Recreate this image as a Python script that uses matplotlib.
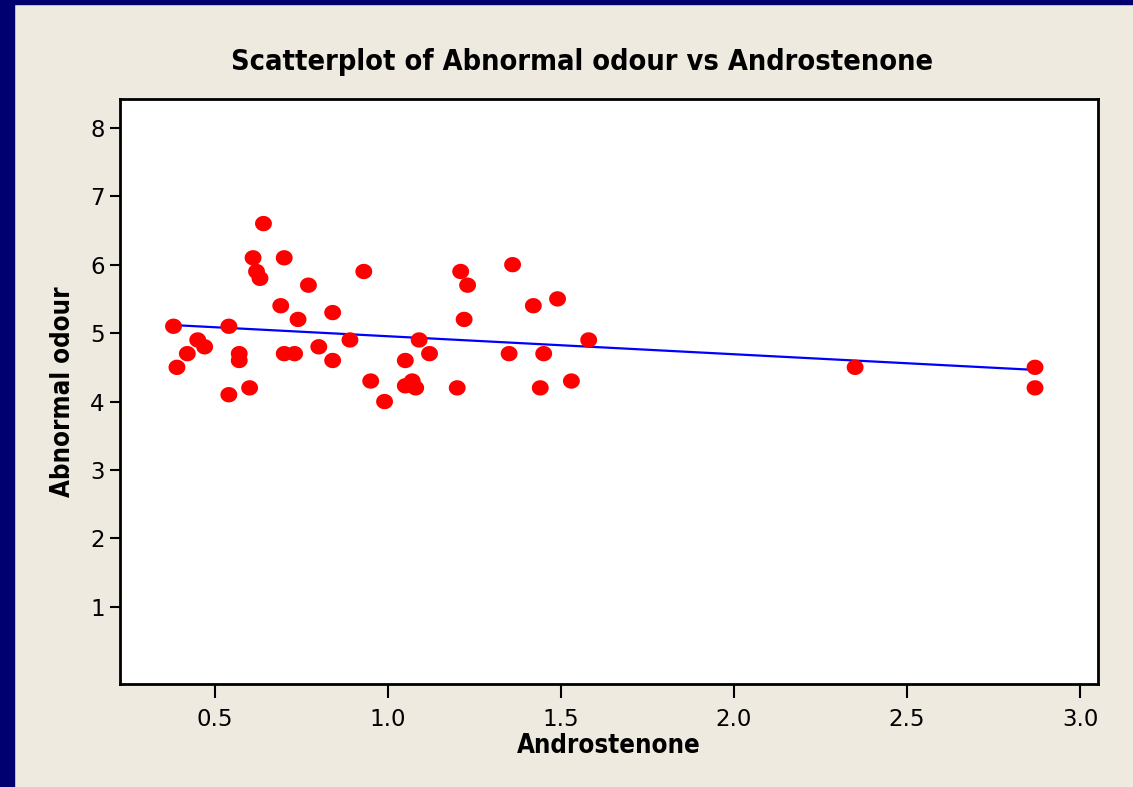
import numpy as np
import matplotlib
matplotlib.use('Agg')
import matplotlib.pyplot as plt
from matplotlib.patches import Rectangle

# Androstenone vs abnormal odour
androstenone = [0.38, 0.39, 0.42, 0.45, 0.47, 0.54, 0.54, 0.57, 0.57, 0.60,
                0.61, 0.62, 0.63, 0.64, 0.70, 0.69, 0.70, 0.73, 0.74, 0.77,
                0.80, 0.84, 0.84, 0.89, 0.93, 0.95, 0.99, 1.05, 1.05, 1.07,
                1.08, 1.09, 1.12, 1.20, 1.21, 1.23, 1.22, 1.36, 1.42, 1.49,
                1.35, 1.45, 1.58, 1.44, 1.53, 2.35, 2.87, 2.87]
odour = [5.1, 4.5, 4.7, 4.9, 4.8, 5.1, 4.1, 4.7, 4.6, 4.2,
         6.1, 5.9, 5.8, 6.6, 6.1, 5.4, 4.7, 4.7, 5.2, 5.7,
         4.8, 5.3, 4.6, 4.9, 5.9, 4.3, 4.0, 4.6, 4.23, 4.3,
         4.2, 4.9, 4.7, 4.2, 5.9, 5.7, 5.2, 6.0, 5.4, 5.5,
         4.7, 4.7, 4.9, 4.2, 4.3, 4.5, 4.5, 4.2]

xticks = [0.5, 1.0, 1.5, 2.0, 2.5, 3.0]
yticks = [1, 2, 3, 4, 5, 6, 7, 8]

bg = '#EEEAE0'
navy = '#000070'
plt.rcParams['font.family'] = 'DejaVu Sans'

fig = plt.figure(figsize=(11.33, 7.87), dpi=100, facecolor=bg)
fig.patches.append(Rectangle((0, 0), 14 / 1133, 1, transform=fig.transFigure,
                             color=navy, zorder=0))
fig.patches.append(Rectangle((0, 1 - 4 / 787), 1, 4 / 787, transform=fig.transFigure,
                             color=navy, zorder=0))

ax = fig.add_axes([120 / 1133, 1 - 684 / 787, 978 / 1133, 585 / 787])
ax.set_facecolor('white')

# slightly wide elliptical dots
t = np.linspace(0, 2 * np.pi, 40)
ellipse = np.column_stack([1.1 * np.cos(t), np.sin(t)])
ax.scatter(androstenone, odour, marker=ellipse, s=148, color='#FF0000',
           edgecolors='none', zorder=3)

# least squares fit line
x = np.array(androstenone)
b, a = np.polyfit(x, odour, 1)
xs = np.array([x.min(), x.max()])
ax.plot(xs, a + b * xs, color='#0000FF', lw=1.6, zorder=2)

ax.set_xlim(0.2254, 3.052)
ax.set_ylim(-0.126, 8.42)
ax.set_xticks(xticks)
ax.set_xticklabels(['%.1f' % v for v in xticks])
ax.set_yticks(yticks)
ax.set_yticklabels([str(v) for v in yticks])

for s in ax.spines.values():
    s.set_linewidth(2)
    s.set_color('black')
ax.tick_params(axis='x', length=10, width=1.5, pad=7, labelsize=16.5)
ax.tick_params(axis='y', length=7, width=1.5, pad=4, labelsize=16.5)

ax.set_xlabel('Androstenone', fontsize=18.5, fontweight='bold', labelpad=2,
              fontstretch='condensed')
ax.set_ylabel('Abnormal odour', fontsize=18.5, fontweight='bold', labelpad=10,
              fontstretch='condensed')

fig.text(582 / 1133, 1 - 62 / 787, 'Scatterplot of Abnormal odour vs Androstenone',
         ha='center', va='center', fontsize=20.7, fontweight='bold',
         fontstretch='condensed')

fig.savefig('out.png', dpi=100, facecolor=bg)
